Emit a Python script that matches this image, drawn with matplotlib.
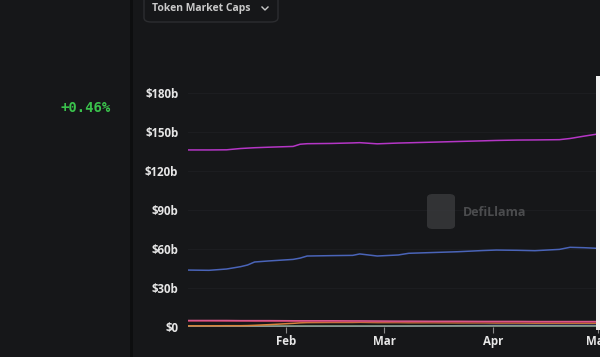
import matplotlib
matplotlib.use("Agg")
import matplotlib.pyplot as plt
import matplotlib.dates as mdates
import numpy as np
from matplotlib.patches import FancyBboxPatch, Rectangle
from matplotlib.lines import Line2D

# data (values in $b)
dates = np.array([
    "2025-01-04", "2025-01-10", "2025-01-15", "2025-01-19", "2025-01-21",
    "2025-01-23", "2025-01-27", "2025-02-03", "2025-02-05", "2025-02-07",
    "2025-02-14", "2025-02-20", "2025-02-22", "2025-02-27", "2025-03-05",
    "2025-03-08", "2025-03-15", "2025-03-22", "2025-03-29", "2025-04-02",
    "2025-04-08", "2025-04-13", "2025-04-20", "2025-04-23", "2025-04-27",
    "2025-05-01"], dtype="datetime64[D]")

usdt = [136.2, 136.2, 136.3, 137.3, 137.6, 137.9, 138.3, 138.9, 140.6, 141.0,
        141.2, 141.6, 141.8, 140.9, 141.5, 141.7, 142.2, 142.7, 143.2, 143.5,
        143.8, 143.9, 144.1, 145.0, 146.8, 148.5]
usdc = [43.8, 43.6, 44.6, 46.4, 47.7, 50.0, 50.8, 52.0, 53.0, 54.6,
        54.9, 55.1, 56.2, 54.6, 55.4, 56.7, 57.3, 57.9, 58.8, 59.2,
        59.0, 58.7, 59.7, 61.3, 61.0, 60.5]
pink = [5.0, 5.0, 5.0, 4.9, 4.9, 4.9, 4.9, 4.8, 4.8, 4.8,
        4.8, 4.7, 4.7, 4.6, 4.5, 4.5, 4.4, 4.4, 4.3, 4.3,
        4.3, 4.2, 4.2, 4.2, 4.2, 4.2]
darkred = [4.6, 4.6, 4.5, 4.5, 4.5, 4.4, 4.4, 4.3, 4.3, 4.3,
           4.2, 4.2, 4.2, 4.1, 4.0, 4.0, 3.9, 3.9, 3.8, 3.8,
           3.8, 3.7, 3.7, 3.7, 3.7, 3.7]
orange = [0.9, 0.9, 1.0, 1.0, 1.1, 1.3, 1.8, 2.8, 3.2, 3.4,
          3.5, 3.5, 3.6, 3.4, 3.4, 3.3, 3.3, 3.2, 3.2, 3.1,
          3.1, 3.0, 3.0, 3.0, 3.0, 3.0]
violet = [0.3, 0.3, 0.3, 0.3, 0.3, 0.3, 0.3, 0.3, 0.3, 0.3,
          0.3, 0.3, 0.3, 0.4, 0.5, 0.6, 0.8, 1.0, 1.1, 1.2,
          1.2, 1.2, 1.2, 1.2, 1.2, 1.2]
sage = [0.5, 0.5, 0.5, 0.5, 0.5, 0.5, 0.5, 0.5, 0.5, 0.5,
        0.5, 0.5, 0.5, 0.5, 0.5, 0.5, 0.5, 0.5, 0.5, 0.5,
        0.5, 0.5, 0.5, 0.5, 0.5, 0.5]

series = [
    (violet, "#6a58b0"),
    (sage, "#8fa88a"),
    (orange, "#d9823a"),
    (darkred, "#a5344a"),
    (pink, "#d9578c"),
    (usdc, "#4a64b8"),
    (usdt, "#b536c6"),
]

yticks = [0, 30, 60, 90, 120, 150, 180]
ytick_labels = ["$0", "$30b", "$60b", "$90b", "$120b", "$150b", "$180b"]
month_ticks = np.array(["2025-02-01", "2025-03-01", "2025-04-01", "2025-05-01"], dtype="datetime64[D]")

bg = "#161719"
W, H = 600, 357

fig = plt.figure(figsize=(6, 3.57), dpi=100, facecolor=bg)

# left panel divider
fig.add_artist(Rectangle((130 / W, 0), 3 / W, 1, transform=fig.transFigure,
                         facecolor="#0d0e0f", edgecolor="none"))
fig.text(111 / W, 1 - 108 / H, "+0.46%", color="#3ac24c", fontsize=10,
         family="DejaVu Sans Mono", weight="bold", ha="right", va="center")

# dropdown button
fig.add_artist(FancyBboxPatch((144 / W, 1 - 22 / H), 134 / W, 30 / H,
                              boxstyle="round,pad=0,rounding_size=0.012",
                              transform=fig.transFigure, facecolor=bg,
                              edgecolor="#2c2d30", linewidth=1))
fig.text(152 / W, 1 - 8 / H, "Token Market Caps", color="#c9c9c9", fontsize=7.5,
         family="Open Sans", weight="bold", va="center")
fig.add_artist(Line2D([262 / W, 265 / W, 268 / W], [1 - 7 / H, 1 - 10 / H, 1 - 7 / H],
                      transform=fig.transFigure, color="#c9c9c9", linewidth=1))

ax = fig.add_axes([188 / W, 30 / H, 410 / W, 253.5 / H])
ax.set_facecolor(bg)

for vals, col in series:
    ax.plot(dates, vals, color=col, linewidth=1.1)

ax.set_ylim(0, 195)
ax.set_xlim(dates[0], dates[-1])
ax.set_yticks(yticks)
ax.set_yticklabels(ytick_labels)
ax.set_xticks(month_ticks)
ax.xaxis.set_major_formatter(mdates.DateFormatter("%b"))
ax.grid(axis="y", color="#1c1d20", linewidth=0.8)
ax.set_axisbelow(True)
for s in ax.spines.values():
    s.set_visible(False)
ax.tick_params(axis="y", length=0, pad=7, colors="#e6e6e6", labelsize=8.3)
ax.tick_params(axis="x", length=4, width=0.8, color="#8a8a8a", colors="#e6e6e6",
               labelsize=8.3, pad=2)
for lab in ax.get_xticklabels() + ax.get_yticklabels():
    lab.set_fontfamily("Open Sans")
    lab.set_fontweight("bold")
for t in ax.xaxis.get_major_ticks():
    t.tick1line.set_color("#8a8a8a")

# watermark
fig.add_artist(FancyBboxPatch((427 / W, 1 - 229 / H), 28 / W, 35 / H,
                              boxstyle="round,pad=0,rounding_size=0.01",
                              transform=fig.transFigure, facecolor="#3a3b3d",
                              edgecolor="none", alpha=0.8))
fig.text(463 / W, 1 - 212 / H, "DefiLlama", color="#4b4c4e", fontsize=9,
         family="Open Sans", weight="bold", va="center")

# right edge highlight
fig.add_artist(Rectangle((596 / W, 1 - 330 / H), 4 / W, 254 / H,
                         transform=fig.transFigure, facecolor="#f2f2f2",
                         edgecolor="none"))

fig.savefig("out.png", dpi=100, facecolor=bg)
